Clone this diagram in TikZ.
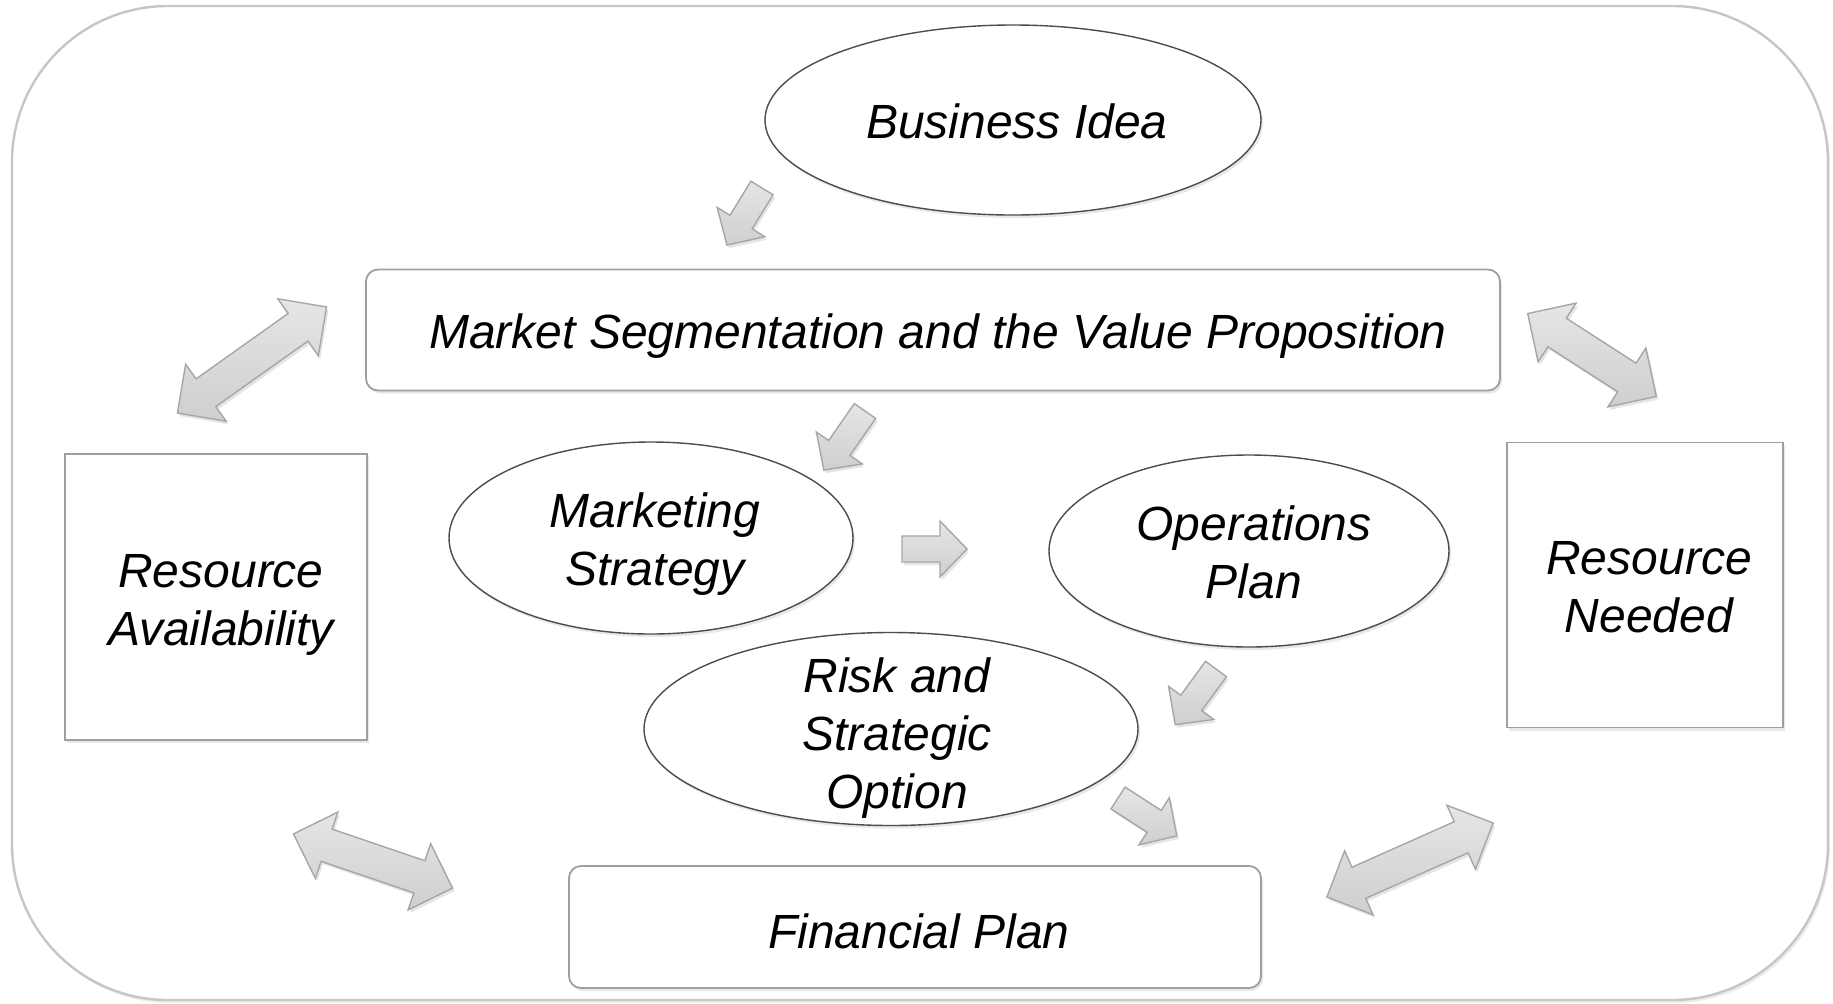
\documentclass[tikz,border=0pt]{standalone}
\usepackage{fontspec}
\setmainfont{Liberation Sans}
\usetikzlibrary{shapes.geometric,shadows,positioning}

\begin{document}
\begin{tikzpicture}[x=0.5pt,y=-0.5pt]
\tikzset{
  frame/.style={rectangle,draw=gray!45,line width=1.2pt,rounded corners=78pt,
    minimum width=908pt,minimum height=497pt,
    drop shadow={opacity=0.15,shadow xshift=1pt,shadow yshift=-1.5pt},fill=white},
  blocklabel/.style={font=\fontsize{24}{29}\selectfont\itshape,align=center,text=black,inner sep=0pt},
  roundbox/.style={rectangle,rounded corners=6pt,draw=gray!75,line width=0.9pt,fill=white,
    drop shadow={opacity=0.18,shadow xshift=1pt,shadow yshift=-1.5pt}},
  squarebox/.style={rectangle,draw=gray!75,line width=0.9pt,fill=white,
    drop shadow={opacity=0.18,shadow xshift=1pt,shadow yshift=-1.5pt}},
  oval/.style={ellipse,draw=gray!60!black,line width=0.7pt,fill=white,inner sep=0pt,
    drop shadow={opacity=0.18,shadow xshift=1pt,shadow yshift=-1.5pt}},
  arrowfill/.style={draw=gray!70,line width=0.7pt,top color=gray!20,bottom color=gray!38,
    drop shadow={opacity=0.2,shadow xshift=1pt,shadow yshift=-1.5pt}},
  pics/onearrow/.style={code={
    \path[arrowfill] (0,-13) -- ({#1-27},-13) -- ({#1-27},-28) -- (#1,0)
      -- ({#1-27},28) -- ({#1-27},13) -- (0,13) -- cycle;}},
  pics/twoarrow/.style={code={
    \path[arrowfill] ({-#1/2},0) -- ({-#1/2+35},-35) -- ({-#1/2+35},-17)
      -- ({#1/2-35},-17) -- ({#1/2-35},-35) -- ({#1/2},0) -- ({#1/2-35},35)
      -- ({#1/2-35},17) -- ({-#1/2+35},17) -- ({-#1/2+35},35) -- cycle;}}
}
\useasboundingbox (0,0) rectangle (1833,1003);

% outer frame
\node[frame] (outer) at (920,503) {};

% ovals
\node[oval,minimum width=248pt,minimum height=95pt] (idea) at (1013,120) {};
\node[blocklabel] (idea-t) at (1017,121) {Business Idea};
\node[oval,minimum width=202pt,minimum height=96pt] (mkt) at (651,538) {};
\node[blocklabel] (mkt-t) at (655,544) {Marketing\\Strategy};
\node[oval,minimum width=200pt,minimum height=96pt] (ops) at (1249,551) {};
\node[blocklabel] (ops-t) at (1254,552) {Operations\\Plan};
\node[oval,minimum width=247pt,minimum height=96.5pt] (risk) at (891,729) {};
\node[blocklabel] (risk-t) at (897,738) {Risk and\\Strategic\\Option};

% boxes
\node[roundbox,minimum width=567pt,minimum height=60.5pt] (seg) at (933,330) {};
\node[blocklabel] (seg-t) at (938,336) {Market Segmentation and the Value Proposition};
\node[squarebox,minimum width=151pt,minimum height=143pt] (avail) at (216,597) {};
\node[blocklabel] (avail-t) at (221,605) {Resource\\Availability};
\node[squarebox,minimum width=138pt,minimum height=142.5pt] (need) at (1645,585) {};
\node[blocklabel] (need-t) at (1649,587) {Resource\\Needed};
\node[roundbox,minimum width=346pt,minimum height=61pt] (fin) at (915,927) {};
\node[blocklabel] (fin-t) at (919,931) {Financial Plan};

% flow arrows
\pic[rotate=-121.6] at (762,188) {onearrow=67};
\pic[rotate=-124.8] at (865,411) {onearrow=72};
\pic at (902,549) {onearrow=65};
\pic[rotate=-126.2] at (1216,669) {onearrow=69};
\pic[rotate=-32.8] at (1118,798) {onearrow=70};

% two-way arrows
\pic[rotate=35.4] at (252,360) {twoarrow=183};
\pic[rotate=-32.8] at (1592,355) {twoarrow=153};
\pic[rotate=-18.8] at (373,861) {twoarrow=168};
\pic[rotate=24] at (1410,860) {twoarrow=182};
\end{tikzpicture}
\end{document}
